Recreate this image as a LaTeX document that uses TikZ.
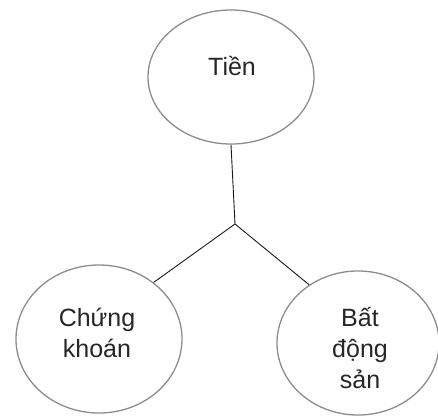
\documentclass[tikz,border=0pt]{standalone}
\usepackage{fontspec}
\setmainfont{Liberation Sans}
\usetikzlibrary{shapes.geometric}
\begin{document}
\begin{tikzpicture}[x=1pt,y=-1pt,
  bubble/.style={draw=black!45,line width=1.3pt,ellipse,inner sep=0pt},
  lbl/.style={font=\fontsize{25}{31}\selectfont,align=center,text=black!85},
  conn/.style={draw=black!90,line width=0.9pt}]
\useasboundingbox (0,0) rectangle (438,418);
\node[bubble,minimum width=166pt,minimum height=134pt] (t) at (231,77) {};
\node[bubble,minimum width=166pt,minimum height=148pt] (l) at (99,339) {};
\node[bubble,minimum width=162pt,minimum height=144pt] (r) at (358,343) {};
\node[lbl] (tt) at (232,66) {Tiền};
\node[lbl] (lt) at (97,333) {Chứng\\khoán};
\node[lbl] (rt) at (360,348) {Bất\\động\\sản};
\coordinate (j) at (235,224);
\draw[conn] (t.south) -- (j);
\draw[conn] (j) -- (l.46);
\draw[conn] (j) -- (r.130);
\end{tikzpicture}
\end{document}
